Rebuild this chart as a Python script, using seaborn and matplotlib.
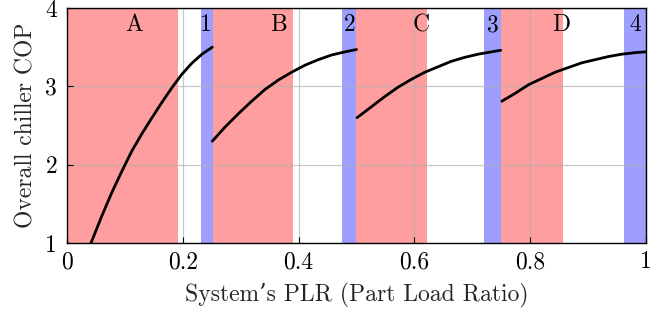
import matplotlib
matplotlib.use("Agg")
import matplotlib.pyplot as plt
import seaborn as sns
import pandas as pd

# ---- data ----
seg1_x = [0.0415, 0.0599, 0.0772, 0.0944, 0.1117, 0.129, 0.146, 0.1635,
          0.181, 0.198, 0.215, 0.233, 0.251]
seg1_y = [1.00, 1.34, 1.64, 1.91, 2.17, 2.39, 2.59, 2.79,
          2.98, 3.15, 3.29, 3.41, 3.50]
seg2_x = [0.251, 0.273, 0.296, 0.319, 0.342, 0.365, 0.388, 0.411,
          0.434, 0.457, 0.480, 0.500]
seg2_y = [2.30, 2.48, 2.65, 2.81, 2.96, 3.08, 3.18, 3.27,
          3.34, 3.40, 3.44, 3.47]
seg3_x = [0.501, 0.526, 0.549, 0.572, 0.595, 0.618, 0.641, 0.664,
          0.687, 0.710, 0.733, 0.749]
seg3_y = [2.60, 2.74, 2.87, 2.99, 3.09, 3.18, 3.25, 3.32,
          3.37, 3.41, 3.44, 3.46]
seg4_x = [0.751, 0.774, 0.797, 0.820, 0.843, 0.866, 0.889, 0.912,
          0.935, 0.958, 0.981, 0.999]
seg4_y = [2.81, 2.91, 3.02, 3.10, 3.18, 3.24, 3.30, 3.34,
          3.38, 3.41, 3.43, 3.44]

red_spans = [(0.0, 0.192), (0.252, 0.39), (0.50, 0.622), (0.75, 0.857)]
blue_spans = [(0.231, 0.252), (0.475, 0.50), (0.72, 0.75), (0.962, 1.0)]

region_labels = ["A", "1", "B", "2", "C", "3", "D", "4"]
region_label_x = [0.116, 0.24, 0.365, 0.489, 0.611, 0.736, 0.853, 0.982]
region_label_y = 3.78

xticks = [0, 0.2, 0.4, 0.6, 0.8, 1.0]
xtick_labels = ["0", "0.2", "0.4", "0.6", "0.8", "1"]
yticks = [1, 2, 3, 4]
ytick_labels = ["1", "2", "3", "4"]

xlabel = "System’s PLR (Part Load Ratio)"
ylabel = "Overall chiller COP"

# ---- build table ----
rows = []
for sid, (xs, ys) in enumerate([(seg1_x, seg1_y), (seg2_x, seg2_y),
                                (seg3_x, seg3_y), (seg4_x, seg4_y)]):
    for xv, yv in zip(xs, ys):
        rows.append({"plr": xv, "cop": yv, "seg": sid})
df = pd.DataFrame(rows)

sns.set_theme(style="ticks")
plt.rcParams["font.family"] = ["cmr10", "DejaVu Serif"]
plt.rcParams["mathtext.fontset"] = "cm"
plt.rcParams["axes.formatter.use_mathtext"] = True
plt.rcParams["axes.unicode_minus"] = False

FS = 17

fig = plt.figure(figsize=(6.67, 3.16), dpi=100)
ax = fig.add_axes([0.1004, 0.231, 0.8681, 0.7437])

for a, b in red_spans:
    ax.axvspan(a, b, color="red", alpha=0.38, lw=0, zorder=1)
for a, b in blue_spans:
    ax.axvspan(a, b, color="blue", alpha=0.38, lw=0, zorder=1)

sns.lineplot(data=df, x="plr", y="cop", units="seg", estimator=None,
             color="black", lw=2, sort=False, ax=ax, zorder=3)

for lab, lx in zip(region_labels, region_label_x):
    ax.text(lx, region_label_y, lab, ha="center", va="center",
            fontsize=FS, color="black", zorder=4)

ax.set_xlim(0, 1)
ax.set_ylim(1, 4)
ax.set_xticks(xticks)
ax.set_xticklabels(xtick_labels)
ax.set_yticks(yticks)
ax.set_yticklabels(ytick_labels)
ax.set_axisbelow("line")
ax.grid(True, color="#b0b0b0", lw=0.9, alpha=0.7)
ax.tick_params(axis="x", direction="in", length=4, width=0.8, labelsize=FS,
               pad=6, colors="black")
ax.tick_params(axis="y", direction="in", length=4, width=0.8, labelsize=FS,
               pad=7, colors="black")
ax.set_xlabel(xlabel, fontsize=FS, labelpad=7)
ax.set_ylabel(ylabel, fontsize=FS, labelpad=6)
for s in ax.spines.values():
    s.set_color("black")
    s.set_linewidth(1.0)

fig.savefig("out.png", dpi=100)
